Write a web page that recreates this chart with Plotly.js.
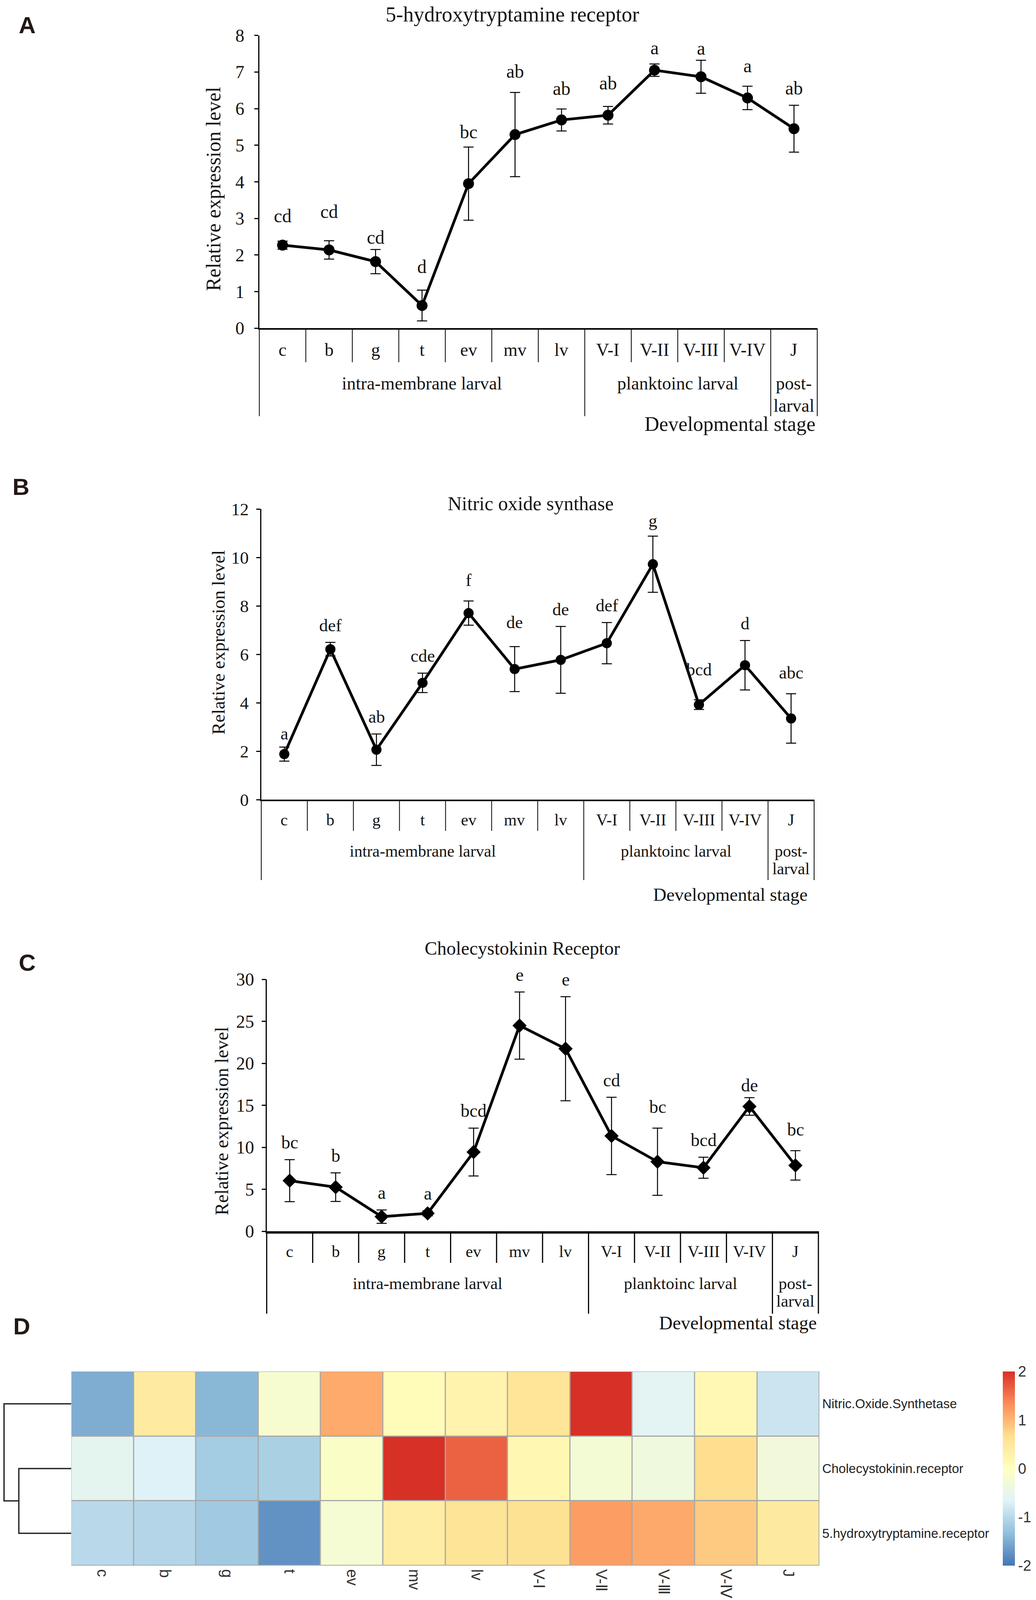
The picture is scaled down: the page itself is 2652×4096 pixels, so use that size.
<!DOCTYPE html>
<html><head><meta charset="utf-8">
<script src="https://cdn.plot.ly/plotly-3.0.1.min.js"></script>
<style>html,body{margin:0;padding:0;background:#fff}#chart{width:2652px;height:4096px}</style>
</head><body><div id="chart"></div>
<script>
// ---------------- data ----------------
const stages = ['c','b','g','t','ev','mv','lv','V-I','V-II','V-III','V-IV','J'];
const heatStages = ['c','b','g','t','ev','mv','lv','V-Ⅰ','V-Ⅱ','V-Ⅲ','V-Ⅳ','J'];
const groupLabels = ['intra-membrane larval','planktoinc larval','post-\nlarval'];
const groupSizes = [7, 4, 1];

const htMean    = [2.27, 2.14, 1.82, 0.62, 3.95, 5.29, 5.69, 5.82, 7.05, 6.87, 6.29, 5.45];
const htErr     = [0.11, 0.25, 0.33, 0.42, 1.00, 1.15, 0.30, 0.24, 0.17, 0.45, 0.32, 0.64];
const htLetters = ['cd','cd','cd','d','bc','ab','ab','ab','a','a','a','ab'];

const nosMean    = [1.88, 6.21, 2.06, 4.82, 7.70, 5.39, 5.77, 6.46, 9.72, 3.92, 5.55, 3.35];
const nosErr     = [0.29, 0.28, 0.65, 0.40, 0.50, 0.93, 1.38, 0.85, 1.16, 0.20, 1.02, 1.02];
const nosLetters = ['a','def','ab','cde','f','de','de','def','g','bcd','d','abc'];

const cckMean    = [6.02, 5.25, 1.74, 2.13, 9.43, 24.49, 21.73, 11.35, 8.28, 7.56, 14.86, 7.84];
const cckErr     = [2.50, 1.70, 0.80, 0.30, 2.85, 4.00, 6.20, 4.60, 4.00, 1.25, 1.05, 1.75];
const cckLetters = ['bc','b','a','a','bcd','e','e','cd','bc','bcd','de','bc'];

const heatGenes = ['Nitric.Oxide.Synthetase','Cholecystokinin.receptor','5.hydroxytryptamine.receptor'];
const heatNOS = [-1.50, 0.43, -1.40, -0.19, 1.10, 0.07, 0.25, 0.55, 2.00, -0.60, 0.14, -0.85];
const heatCCK = [-0.57, -0.68, -1.17, -1.12, -0.09, 2.03, 1.64, 0.18, -0.25, -0.35, 0.68, -0.31];
const heatHT  = [-1.00, -1.05, -1.20, -1.75, -0.22, 0.39, 0.57, 0.63, 1.20, 1.11, 0.84, 0.46];
const colorTicks = [-2, -1, 0, 1, 2];
const colorTickText = ['-2', '-1', '0', '1', '2'];
// dendrogram: merges of rows (0 NOS, 1 CCK, 2 5-HT), relative heights
const dendroMerges = [[1, 2], [0, 'm0']];
const dendroHeights = [0.78, 1.0];

// ---------------- layout helpers ----------------
const W = 2652, H = 4096;
const fx = p => p / W;
const fy = p => 1 - p / H;
const SERIF = 'Liberation Serif, Times New Roman, serif';
const SANS = 'Liberation Sans, Arial, sans-serif';
const INK = '#141414';

const panels = [
  {mean: htMean, err: htErr, letters: htLetters, title: '5-hydroxytryptamine receptor', yMax: 8, dtick: 1, symbol: 'circle',
   box: {x0: 663.8, x1: 2092, yTop: 90.6, yBot: 840.3}, titlePos: [1311, 37], yTitlePos: [546.7, 483.4],
   tag: 'A', tagPos: [69, 64],
   fs: {title: 54, yTitle: 52, tick: 46, cat: 46, group: 46, dev: 52, sig: 48},
   off: {cat: 55, cell: 87, group: 141, larval: 198, groupEnd: 225, dev: 245}, devX: 2090,
   sigNudge: [21, 31, -13, 16, -5, 10, 8, 16, -3, -13, 8, 0],
   axisW: 3, xAxisW: 4, cellW: 2, markerSize: 28, standoff: 16},
  {mean: nosMean, err: nosErr, letters: nosLetters, title: 'Nitric oxide synthase', yMax: 12, dtick: 2, symbol: 'circle',
   box: {x0: 668.8, x1: 2084, yTop: 1303, yBot: 2047}, titlePos: [1358.5, 1289], yTitlePos: [559, 1644.8],
   tag: 'B', tagPos: [53.6, 1246],
   fs: {title: 50, yTitle: 47, tick: 45, cat: 42, group: 42, dev: 47, sig: 45},
   off: {cat: 52, cell: 80, group: 132, larval: 177, groupEnd: 206, dev: 243}, devX: 2069,
   sigNudge: [-10, 0, 0, 0, 10, 18, 0, 0, -5, 34, 0, 10],
   axisW: 3, xAxisW: 4, cellW: 2, markerSize: 26, standoff: 10},
  {mean: cckMean, err: cckErr, letters: cckLetters, title: 'Cholecystokinin Receptor', yMax: 30, dtick: 5, symbol: 'diamond',
   box: {x0: 682.7, x1: 2095, yTop: 2507, yBot: 3152}, titlePos: [1336.5, 2427.7], yTitlePos: [567, 2870.2],
   tag: 'C', tagPos: [69, 2464],
   fs: {title: 48, yTitle: 48, tick: 46, cat: 42, group: 43, dev: 48, sig: 46},
   off: {cat: 52, cell: 81, group: 133, larval: 178, groupEnd: 211, dev: 234}, devX: 2093,
   sigNudge: [0, 0, 0, 0, 0, 0, 0, 0, 10, 0, -13, 10],
   axisW: 3, xAxisW: 6, cellW: 3, markerSize: 28, standoff: 10}
];

const data = [];
const layout = {
  width: W, height: H, margin: {l: 0, r: 0, t: 0, b: 0},
  paper_bgcolor: '#ffffff', plot_bgcolor: '#ffffff', showlegend: false,
  font: {family: SERIF, color: INK},
  annotations: [], shapes: []
};

const idx = stages.map((_, i) => i);
const nCat = stages.length;
const domFrac = b => (b + 0.5) / nCat;

panels.forEach((p, k) => {
  const n = k === 0 ? '' : String(k + 1);
  const xa = 'x' + n, ya = 'y' + n;
  layout['xaxis' + n] = {
    domain: [fx(p.box.x0), fx(p.box.x1)], range: [-0.5, nCat - 0.5], anchor: ya,
    showline: true, linecolor: '#000', linewidth: p.xAxisW, showticklabels: false, ticks: '',
    showgrid: false, zeroline: false, fixedrange: true
  };
  layout['yaxis' + n] = {
    domain: [fy(p.box.yBot), fy(p.box.yTop)], range: [0, p.yMax], anchor: xa, dtick: p.dtick,
    showline: true, linecolor: '#000', linewidth: p.axisW, ticks: 'outside', ticklen: 10, tickwidth: p.axisW,
    tickcolor: '#000', showgrid: false, zeroline: false, ticklabelstandoff: p.standoff,
    tickfont: {family: SERIF, size: p.fs.tick, color: INK}, fixedrange: true
  };
  data.push({
    type: 'scatter', mode: 'lines+markers', x: idx, y: p.mean, xaxis: xa, yaxis: ya,
    line: {color: '#000', width: 7}, marker: {symbol: p.symbol, size: p.markerSize, color: '#000'},
    error_y: {type: 'data', array: p.err, visible: true, color: '#000', thickness: 2.5, width: 13},
    cliponaxis: false, hoverinfo: 'skip'
  });
  // significance letters
  p.letters.forEach((t, i) => layout.annotations.push({
    xref: xa, yref: ya, x: i, y: p.mean[i] + p.err[i], yshift: 44 + p.sigNudge[i], yanchor: 'middle', xanchor: 'center',
    text: t, showarrow: false, font: {family: SERIF, size: p.fs.sig, color: INK}
  }));
  // category labels
  stages.forEach((s, i) => layout.annotations.push({
    xref: xa, yref: ya + ' domain', x: i, y: 0, yshift: -p.off.cat, yanchor: 'middle',
    text: s, showarrow: false, font: {family: SERIF, size: p.fs.cat, color: INK}
  }));
  // dividers & group labels
  let start = 0;
  const bounds = [-0.5];
  groupSizes.forEach((g, gi) => {
    const end = start + g - 1;
    bounds.push(end + 0.5);
    const lines = groupLabels[gi].split('\n');
    lines.forEach((ln, li) => layout.annotations.push({
      xref: xa, yref: ya + ' domain', x: (start + end) / 2, y: 0,
      yshift: -(li === 0 ? p.off.group : p.off.larval), yanchor: 'middle',
      text: ln, showarrow: false, font: {family: SERIF, size: p.fs.group, color: INK}
    }));
    start = end + 1;
  });
  for (let b = 0; b < nCat - 1; b++) {
    const pos = b + 0.5;
    if (bounds.includes(pos)) continue;
    layout.shapes.push({type: 'line', xref: xa + ' domain', yref: ya + ' domain', x0: domFrac(pos), x1: domFrac(pos),
      ysizemode: 'pixel', yanchor: 0, y0: 0, y1: -p.off.cell, line: {color: '#000', width: p.cellW}});
  }
  bounds.forEach(pos => layout.shapes.push({type: 'line', xref: xa + ' domain', yref: ya + ' domain',
    x0: domFrac(pos), x1: domFrac(pos), ysizemode: 'pixel', yanchor: 0, y0: 0, y1: -p.off.groupEnd,
    line: {color: '#000', width: p.cellW}}));
  // axis title & x title
  layout.annotations.push({xref: 'paper', yref: 'paper', x: fx(p.devX), y: fy(p.box.yBot + p.off.dev),
    xanchor: 'right', yanchor: 'middle', text: 'Developmental stage', showarrow: false,
    font: {family: SERIF, size: p.fs.dev, color: INK}});
  layout.annotations.push({xref: 'paper', yref: 'paper', x: fx(p.yTitlePos[0]), y: fy(p.yTitlePos[1]),
    xanchor: 'center', yanchor: 'middle', textangle: -90, text: 'Relative expression level', showarrow: false,
    font: {family: SERIF, size: p.fs.yTitle, color: INK}});
  layout.annotations.push({xref: 'paper', yref: 'paper', x: fx(p.titlePos[0]), y: fy(p.titlePos[1]),
    xanchor: 'center', yanchor: 'middle', text: p.title, showarrow: false,
    font: {family: SERIF, size: p.fs.title, color: INK}});
  layout.annotations.push({xref: 'paper', yref: 'paper', x: fx(p.tagPos[0]), y: fy(p.tagPos[1]),
    xanchor: 'center', yanchor: 'middle', text: '<b>' + p.tag + '</b>', showarrow: false,
    font: {family: SANS, size: 60, color: '#231815'}});
});

// ---------------- heatmap (D) ----------------
const hm = {x0: 182.4, x1: 2097.7, yTop: 3511, yBot: 4008};
layout.xaxis4 = {domain: [fx(hm.x0), fx(hm.x1)], range: [-0.5, nCat - 0.5], anchor: 'y4',
  tickvals: idx, ticktext: heatStages, tickangle: 90, ticks: '', showline: false, showgrid: false, zeroline: false,
  ticklabelstandoff: 8, tickfont: {family: SANS, size: 40, color: '#333'}, fixedrange: true};
layout.yaxis4 = {domain: [fy(hm.yBot), fy(hm.yTop)], range: [2.5, -0.5], anchor: 'x4', side: 'right',
  tickvals: [0, 1, 2], ticktext: heatGenes, ticks: '', showline: false, showgrid: false, zeroline: false,
  ticklabelstandoff: 6, tickfont: {family: SANS, size: 33, color: '#222'}, fixedrange: true};
layout.xaxis5 = {domain: [0, fx(hm.x0)], range: [dendroHeights[dendroHeights.length - 1] * 1.06, 0],
  anchor: 'y4', visible: false, fixedrange: true};
layout.shapes.push({type: 'rect', xref: 'x4', yref: 'y4', x0: -0.5, x1: nCat - 0.5, y0: -0.5, y1: 2.5,
  fillcolor: '#a8a8a8', line: {width: 0}, layer: 'below'});

data.push({
  type: 'heatmap', x: idx, y: [0, 1, 2], z: [heatNOS, heatCCK, heatHT], xaxis: 'x4', yaxis: 'y4',
  zmin: -2, zmax: 2, xgap: 3, ygap: 3, hoverinfo: 'skip',
  colorscale: [[0, '#4575B4'], [1/6, '#91BFDB'], [2/6, '#E0F3F8'], [3/6, '#FFFFBF'], [4/6, '#FEE090'], [5/6, '#FC8D59'], [1, '#D73027']],
  colorbar: {x: fx(2567), xanchor: 'left', y: fy((hm.yTop + hm.yBot) / 2), yanchor: 'middle',
    len: (hm.yBot - hm.yTop) / H, lenmode: 'fraction', thickness: 31, thicknessmode: 'pixels',
    xpad: 0, ypad: 0, outlinewidth: 0, tickvals: colorTicks, ticktext: colorTickText, ticks: '', ticklabelpad: 14,
    tickfont: {family: SANS, size: 38, color: '#333'}}
});

// dendrogram built from merges
const nodePos = {};
[0, 1, 2].forEach(r => nodePos[r] = {y: r, h: 0});
const dx = [], dy = [];
dendroMerges.forEach((m, mi) => {
  const a = nodePos[m[0]], b = nodePos[m[1]], h = dendroHeights[mi];
  dx.push(a.h, h, h, b.h, null); dy.push(a.y, a.y, b.y, b.y, null);
  nodePos['m' + mi] = {y: (a.y + b.y) / 2, h: h};
});
data.push({type: 'scatter', mode: 'lines', x: dx, y: dy, xaxis: 'x5', yaxis: 'y4',
  line: {color: '#2a2a2a', width: 3.5}, hoverinfo: 'skip', cliponaxis: false});

layout.annotations.push({xref: 'paper', yref: 'paper', x: fx(55), y: fy(3395), xanchor: 'center', yanchor: 'middle',
  text: '<b>D</b>', showarrow: false, font: {family: SANS, size: 60, color: '#231815'}});

Plotly.newPlot('chart', data, layout, {staticPlot: true, displayModeBar: false});
</script></body></html>
